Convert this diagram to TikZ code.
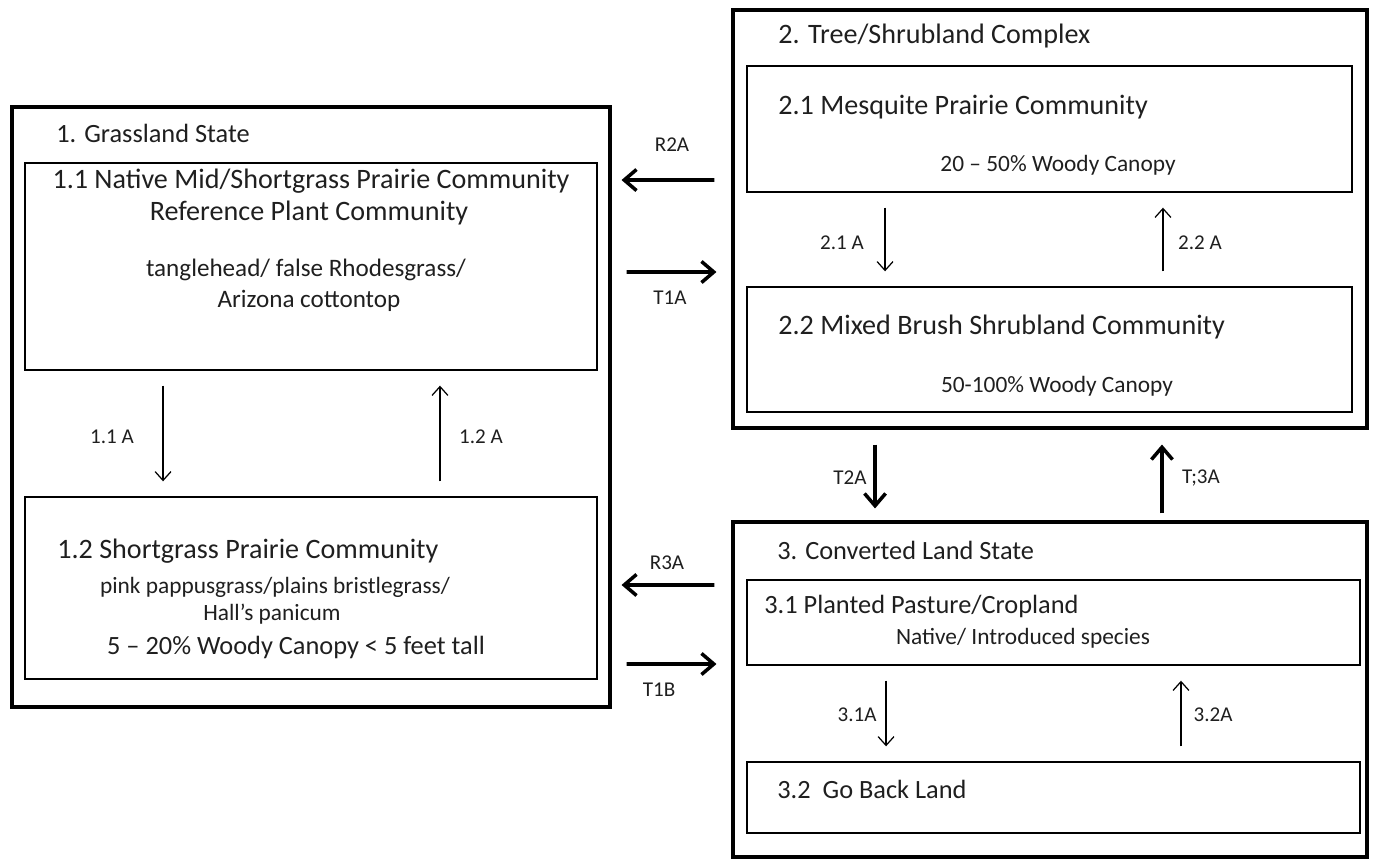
\documentclass[tikz,border=0pt]{standalone}
\usepackage{fontspec}
\setmainfont{Carlito}
\usetikzlibrary{arrows.meta}

\tikzset{
  statebox/.style={draw, line width=1.8pt, inner sep=0pt},
  commbox/.style={draw, line width=0.8pt, inner sep=0pt},
  trans/.style={line width=2.2pt, -{Straight Barb[length=7pt, width=12pt, line width=2pt]}},
  phase/.style={line width=0.7pt, -{Straight Barb[length=5pt, width=9pt]}, shorten <=0.3cm, shorten >=0.3cm},
  big/.style={font=\fontsize{16}{18}\selectfont, inner sep=0pt},
  mid/.style={font=\fontsize{15}{17}\selectfont, inner sep=0pt},
  body/.style={font=\fontsize{14.3}{16}\selectfont, inner sep=0pt},
  small/.style={font=\fontsize{13.3}{15}\selectfont, inner sep=0pt},
  tag/.style={font=\fontsize{12}{14}\selectfont, inner sep=0pt}
}

\begin{document}
\begin{tikzpicture}[x=0.02cm, y=-0.02cm, text=black!88]
\useasboundingbox (0,0) rectangle (1382,859);

% states
\node[statebox, minimum width=11.96cm, minimum height=12cm] (s1) at (311,407) {};
\node[statebox, minimum width=12.68cm, minimum height=8.36cm] (s2) at (1050,219) {};
\node[statebox, minimum width=12.68cm, minimum height=6.7cm] (s3) at (1050,689.5) {};

% communities
\node[commbox, minimum width=11.44cm, minimum height=4.14cm] (c11) at (311,266.5) {};
\node[commbox, minimum width=11.44cm, minimum height=3.64cm] (c12) at (311,588) {};
\node[commbox, minimum width=12.1cm, minimum height=2.52cm] (c21) at (1049.5,129) {};
\node[commbox, minimum width=12.1cm, minimum height=2.5cm] (c22) at (1049.5,349.5) {};
\node[commbox, minimum width=12.26cm, minimum height=1.7cm] (c31) at (1053.5,622.5) {};
\node[commbox, minimum width=12.26cm, minimum height=1.42cm] (c32) at (1053.5,797.5) {};

% texts
\node[mid, anchor=west] (t1) at (56,133) {1. Grassland State};
\node[big] (t11a) at (311,181) {1.1 Native Mid/Shortgrass Prairie Community};
\node[big] (t11b) at (309,213) {Reference Plant Community};
\node[body] (t11c) at (306,270) {tanglehead/ false Rhodesgrass/};
\node[body] (t11d) at (309,301) {Arizona cottontop};
\node[big, anchor=west] (t12a) at (57,551) {1.2 Shortgrass Prairie Community};
\node[small] (t12b) at (275,587) {pink pappusgrass/plains bristlegrass/};
\node[small] (t12c) at (272,614) {Hall's panicum};
\node[mid] (t12d) at (296,647) {5 -- 20\% Woody Canopy < 5 feet tall};

\node[big, anchor=west] (t2) at (778,36) {2. Tree/Shrubland Complex};
\node[big, anchor=west] (t21a) at (778,107) {2.1 Mesquite Prairie Community};
\node[small] (t21b) at (1058,165) {20 -- 50\% Woody Canopy};
\node[big, anchor=west] (t22a) at (778,327) {2.2 Mixed Brush Shrubland Community};
\node[small] (t22b) at (1057,386) {50-100\% Woody Canopy};

\node[mid, anchor=west] (t3) at (777,550) {3. Converted Land State};
\node[mid, anchor=west] (t31a) at (764,606) {3.1 Planted Pasture/Cropland};
\node[small] (t31b) at (1023,638) {Native/ Introduced species};
\node[mid, anchor=west] (t32a) at (777,789) {3.2\ \ Go Back Land};

% phase changes
\draw[phase] ([xshift=-2.96cm]c11.south) -- ([xshift=-2.96cm]c12.north);
\draw[phase] ([xshift=2.58cm]c12.north) -- ([xshift=2.58cm]c11.south);
\draw[phase] ([xshift=-3.29cm]c21.south) -- ([xshift=-3.29cm]c22.north);
\draw[phase] ([xshift=2.27cm]c22.north) -- ([xshift=2.27cm]c21.south);
\draw[phase] ([xshift=-3.35cm]c31.south) -- ([xshift=-3.35cm]c32.north);
\draw[phase] ([xshift=2.55cm]c32.north) -- ([xshift=2.55cm]c31.south);
\node[tag] (l11) at (112,437) {1.1 A};
\node[tag] (l12) at (481,437) {1.2 A};
\node[tag] (l21) at (842,243) {2.1 A};
\node[tag] (l22) at (1200,243) {2.2 A};
\node[tag] (l31) at (857,715) {3.1A};
\node[tag] (l32) at (1213,715) {3.2A};

% transitions
\draw[trans, shorten <=0.34cm, shorten >=0.2cm] ([yshift=0.78cm]s2.west) -- ([yshift=4.54cm]s1.east);
\draw[trans, shorten <=0.3cm, shorten >=0.3cm] ([yshift=2.7cm]s1.east) -- ([yshift=-1.06cm]s2.west);
\draw[trans, shorten <=0.34cm, shorten >=0.2cm] ([yshift=2.09cm]s3.west) -- ([yshift=-3.56cm]s1.east);
\draw[trans, shorten <=0.3cm, shorten >=0.3cm] ([yshift=-5.14cm]s1.east) -- ([yshift=0.51cm]s3.west);
\draw[trans, shorten <=0.3cm, shorten >=0.24cm] ([xshift=-3.5cm]s2.south) -- ([xshift=-3.5cm]s3.north);
\draw[trans, shorten <=0.14cm, shorten >=0.3cm] ([xshift=2.24cm]s3.north) -- ([xshift=2.24cm]s2.south);
\node[tag] (lr2a) at (672,145) {R2A};
\node[tag] (lt1a) at (670,298) {T1A};
\node[tag] (lr3a) at (667,563) {R3A};
\node[tag] (lt1b) at (659,690) {T1B};
\node[tag] (lt2a) at (850,478) {T2A};
\node[tag] (lt3a) at (1201,478) {T;3A};
\end{tikzpicture}
\end{document}
